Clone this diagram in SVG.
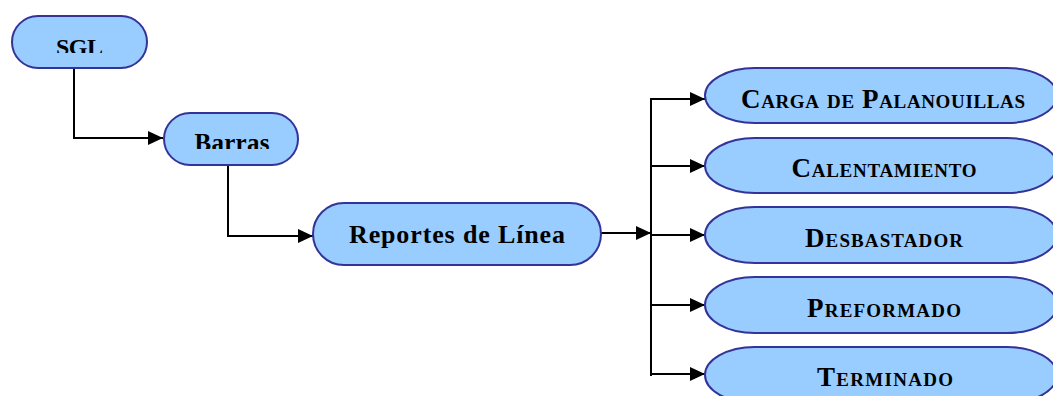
<svg xmlns="http://www.w3.org/2000/svg" width="1053" height="396" viewBox="0 0 1053 396">
  <style>
    .node { fill: #99ccff; stroke: #333399; stroke-width: 2; }
    .wire { fill: none; stroke: #000; stroke-width: 2; }
    .lbl { font-family: "Liberation Serif", "Times New Roman", serif; font-weight: bold; fill: #000; text-anchor: middle; }
    .sc { font-variant: small-caps; font-size: 27px; }
  </style>
  <defs>
    <marker id="arrow" markerUnits="userSpaceOnUse" markerWidth="16" markerHeight="14" refX="15" refY="7" orient="auto">
      <path d="M0,0 L15,7 L0,14 z" fill="#000"/>
    </marker>
    <clipPath id="clipSgl"><rect x="12" y="16" width="135" height="37"/></clipPath>
    <clipPath id="clipBarras"><rect x="164" y="113" width="134" height="36"/></clipPath>
  </defs>

  <g id="connectors">
    <path class="wire" d="M74,68 V138 H163" marker-end="url(#arrow)"/>
    <path class="wire" d="M228,165 V236 H313" marker-end="url(#arrow)"/>
    <path class="wire" d="M601,233 H651" marker-end="url(#arrow)"/>
    <path class="wire" d="M651,98 V376"/>
    <path class="wire" d="M651,99 H705" marker-end="url(#arrow)"/>
    <path class="wire" d="M651,166 H705" marker-end="url(#arrow)"/>
    <path class="wire" d="M651,235 H705" marker-end="url(#arrow)"/>
    <path class="wire" d="M651,305 H705" marker-end="url(#arrow)"/>
    <path class="wire" d="M651,374 H705" marker-end="url(#arrow)"/>
  </g>

  <g id="sgl">
    <rect class="node" x="12" y="16" width="135" height="52" rx="26" ry="26"/>
    <text class="lbl" x="79.5" y="54.5" font-size="24" textLength="47" clip-path="url(#clipSgl)">SGL</text>
  </g>

  <g id="barras">
    <rect class="node" x="164" y="113" width="134" height="52" rx="26" ry="26"/>
    <text class="lbl" x="232" y="151" font-size="25" textLength="75" clip-path="url(#clipBarras)">Barras</text>
  </g>

  <g id="reportes">
    <rect class="node" x="313" y="203" width="288" height="62" rx="31" ry="31"/>
    <text class="lbl" x="457" y="243" font-size="26" textLength="216">Reportes de Línea</text>
  </g>

  <g id="carga">
    <rect class="node" x="705" y="68" width="352" height="55" rx="50" ry="27.5"/>
    <text class="lbl sc" x="883" y="108" textLength="284">Carga de Palanouillas</text>
  </g>

  <g id="calentamiento">
    <rect class="node" x="705" y="138" width="352" height="55" rx="50" ry="27.5"/>
    <text class="lbl sc" x="884" y="177" textLength="185">Calentamiento</text>
  </g>

  <g id="desbastador">
    <rect class="node" x="705" y="207" width="352" height="56" rx="50" ry="28"/>
    <text class="lbl sc" x="884" y="247" textLength="158">Desbastador</text>
  </g>

  <g id="preformado">
    <rect class="node" x="705" y="277" width="352" height="56" rx="50" ry="28"/>
    <text class="lbl sc" x="884" y="317" textLength="154">Preformado</text>
  </g>

  <g id="terminado">
    <rect class="node" x="705" y="347" width="352" height="56" rx="50" ry="28"/>
    <text class="lbl sc" x="885" y="386" textLength="136">Terminado</text>
  </g>
</svg>
